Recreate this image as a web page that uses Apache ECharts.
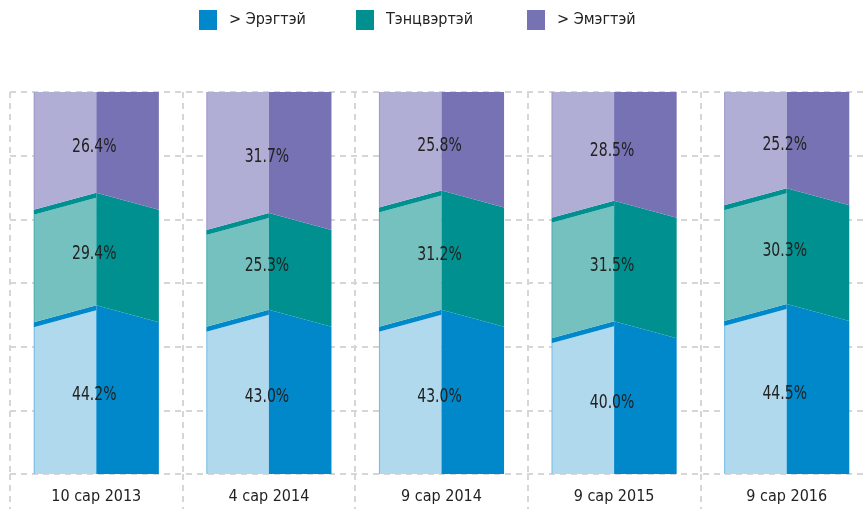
<!DOCTYPE html>
<html>
<head>
<meta charset="utf-8">
<script src="https://cdn.jsdelivr.net/npm/echarts@6/dist/echarts.min.js"></script>
<style>
  html, body { margin: 0; padding: 0; background: #fff; }
  #main { width: 864px; height: 509px; }
</style>
</head>
<body>
<div id="main"></div>
<script>
// Data
const categories = ['10 сар 2013', '4 сар 2014', '9 сар 2014', '9 сар 2015', '9 сар 2016'];
const seriesNames = ['> Эрэгтэй', 'Тэнцвэртэй', '> Эмэгтэй'];
const male = [44.2, 43.0, 43.0, 40.0, 44.5];
const balanced = [29.4, 25.3, 31.2, 31.5, 30.3];
const female = [26.4, 31.7, 25.8, 28.5, 25.2];

const darkColors = ['#0088CB', '#00908F', '#7672B4'];
const lightColors = ['#B1D9EE', '#74C1C0', '#B1AED5'];
const FONT = "'Liberation Sans Narrow', 'DejaVu Sans Condensed', 'Roboto Condensed', Roboto, sans-serif";

let myChart = echarts.init(document.getElementById('main'));

// Build stacked ranges [category, bottom, top, value]
const allValues = [male, balanced, female];
function buildRanges(idx) {
    return categories.map((c, i) => {
        let bottom = 0;
        for (let k = 0; k < idx; k++) bottom += allValues[k][i];
        return [i, bottom, bottom + allValues[idx][i], allValues[idx][i]];
    });
}

// Folded bar piece: light left half, dark right half, chevron at inner boundaries
function renderPiece(idx) {
    return function (params, api) {
        const cat = api.value(0);
        const lo = api.value(1);
        const hi = api.value(2);
        const val = api.value(3);
        const isFirst = idx === 0;
        const isLast = idx === allValues.length - 1;
        const pBot = api.coord([cat, lo]);
        const pTop = api.coord([cat, isLast ? 100 : hi]);
        const w = api.size([1, 0])[0] * 0.725;
        const xC = pBot[0], xL = xC - w / 2, xR = xC + w / 2;
        const yb = pBot[1], yt = pTop[1];
        const d = 17, s = 5;

        const leftPts = [];
        if (isLast) { leftPts.push([xL, yt], [xC, yt]); }
        else { leftPts.push([xL, yt + d + s], [xC, yt + s]); }
        if (isFirst) { leftPts.push([xC, yb], [xL, yb]); }
        else { leftPts.push([xC, yb], [xL, yb + d]); }

        const rightPts = [];
        if (isLast) { rightPts.push([xC, yt], [xR, yt]); }
        else { rightPts.push([xC, yt], [xR, yt + d]); }
        if (isFirst) { rightPts.push([xR, yb], [xC, yb]); }
        else { rightPts.push([xR, yb + d], [xC, yb]); }

        const children = [
            { type: 'polygon', shape: { points: leftPts }, style: { fill: lightColors[idx] } },
            { type: 'polygon', shape: { points: rightPts }, style: { fill: darkColors[idx] } },
            {
                type: 'line',
                shape: { x1: xL + 0.5, y1: leftPts[0][1], x2: xL + 0.5, y2: leftPts[3][1] },
                style: { stroke: darkColors[idx], opacity: 0.35, lineWidth: 1 }
            }
        ];
        if (!isLast) {
            children.push({
                type: 'polygon',
                shape: { points: [[xL, yt + d], [xC, yt], [xC, yt + s], [xL, yt + d + s]] },
                style: { fill: darkColors[idx] }
            });
        }
        // condensed-looking label
        children.push({
            type: 'text',
            x: xC - 2,
            y: (yb + yt) / 2 + 5,
            scaleX: 0.82,
            style: {
                text: val.toFixed(1) + '%',
                x: 0,
                y: 0,
                align: 'center',
                verticalAlign: 'middle',
                fill: '#222',
                font: '19px ' + FONT
            }
        });
        return { type: 'group', children: children };
    };
}

const mySeries = seriesNames.map((name, idx) => ({
    name: name,
    type: 'custom',
    xAxisIndex: 0,
    yAxisIndex: 0,
    itemStyle: { color: darkColors[idx] },
    renderItem: renderPiece(idx),
    encode: { x: 0, y: [1, 2] },
    data: buildRanges(idx)
}));

const dashed = { color: '#d6d6d6', width: 2, type: [6, 5] };

// One legend block per series, placed like the reference
const legendLefts = [199, 356, 527];
const legends = seriesNames.map((name, idx) => ({
    left: legendLefts[idx],
    top: 10,
    padding: 0,
    icon: 'rect',
    itemWidth: 18,
    itemHeight: 20,
    textStyle: { color: '#222', fontSize: 16, fontFamily: FONT, padding: [0, 0, 0, 7] },
    data: [name]
}));

let option = {
    animation: false,
    textStyle: { fontFamily: FONT },
    legend: legends,
    grid: [
        { left: 10, width: 863, top: 92, bottom: 35, outerBoundsMode: 'none' },
        { left: 10, width: 863, top: 474, bottom: 0, outerBoundsMode: 'none' }
    ],
    xAxis: [
        {
            type: 'category',
            gridIndex: 0,
            data: categories,
            axisLine: { show: false },
            axisTick: { show: false },
            axisLabel: { color: '#222', fontSize: 16, fontFamily: FONT, margin: 15 },
            splitLine: { show: true, lineStyle: dashed }
        },
        {
            type: 'category',
            gridIndex: 1,
            data: categories,
            axisLine: { show: false },
            axisTick: { show: false },
            axisLabel: { show: false },
            splitLine: { show: true, lineStyle: dashed }
        }
    ],
    yAxis: [
        {
            type: 'value',
            gridIndex: 0,
            min: 0,
            max: 100,
            interval: 100 / 6,
            axisLine: { show: false },
            axisTick: { show: false },
            axisLabel: { show: false },
            splitLine: { show: true, lineStyle: dashed }
        },
        {
            type: 'value',
            gridIndex: 1,
            show: false,
            splitLine: { show: false }
        }
    ],
    series: mySeries
};

option && myChart.setOption(option);
</script>
</body>
</html>
